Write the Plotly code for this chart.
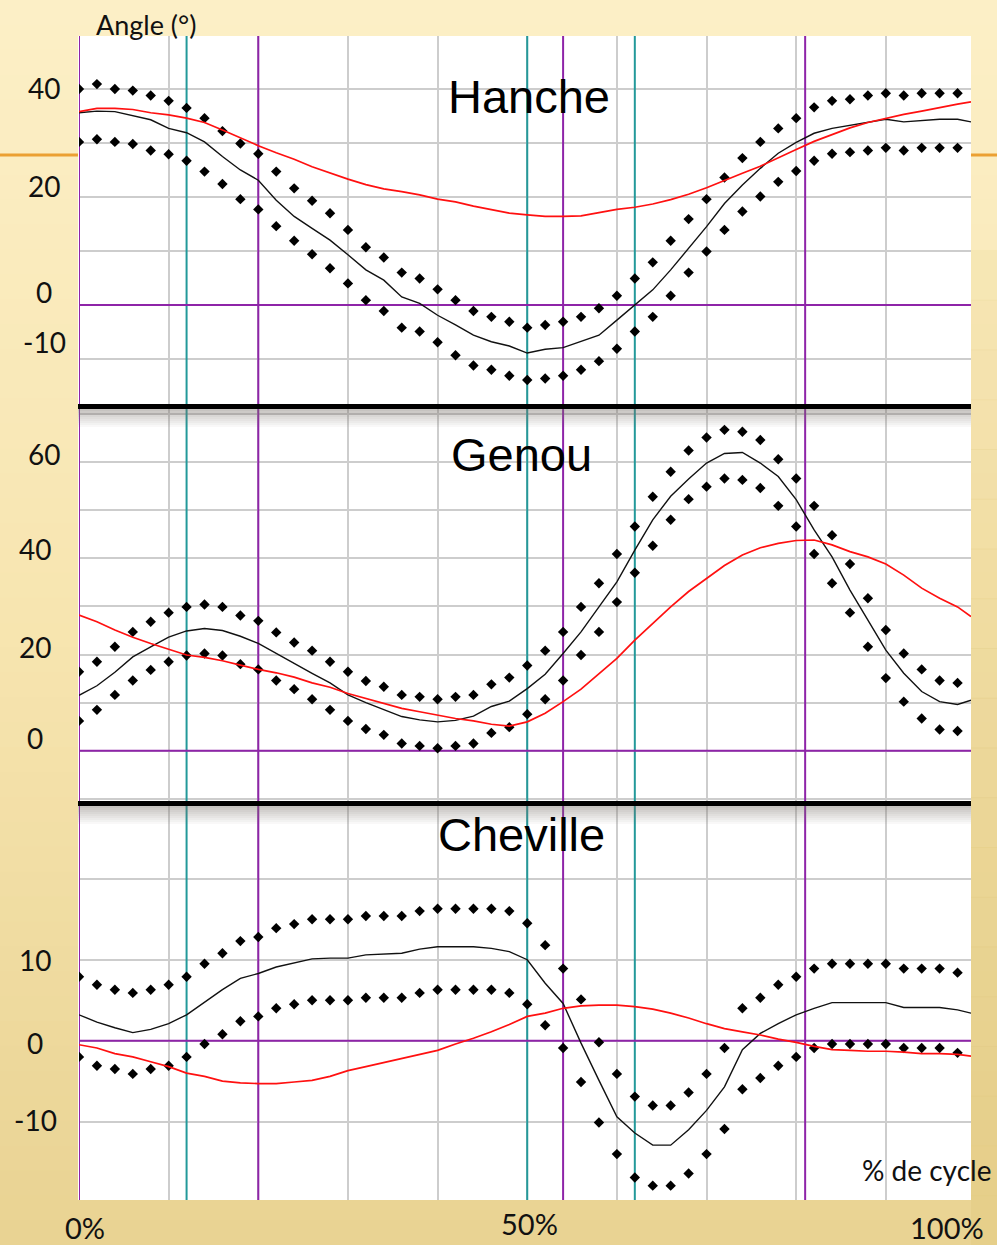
import plotly.graph_objects as go

W, H = 997, 1245

# ---------------- data (degrees vs % of gait cycle) ----------------
pct_dots = list(range(0, 100, 2))            # 0, 2, ..., 98
pct_line = list(range(0, 100, 2)) + [99.5]

hip_upper = [40.0, 40.9, 40.0, 39.7, 38.8, 37.8, 36.5, 34.6, 32.2, 29.9,
             28.0, 24.7, 21.6, 19.3, 17.0, 13.9, 10.7, 8.8, 6.0, 4.9,
             2.9, 0.9, -1.1, -2.2, -3.1, -4.2, -3.7, -3.1, -2.2, -0.6,
             1.7, 4.9, 7.9, 11.9, 15.9, 19.6, 23.6, 27.2, 30.2, 32.7,
             34.6, 36.6, 37.8, 38.1, 38.8, 39.2, 38.8, 39.2, 39.2, 39.2]
hip_lower = [30.2, 30.7, 30.2, 29.8, 28.6, 27.9, 26.7, 24.7, 22.4, 19.6,
             17.7, 14.6, 11.9, 9.4, 6.8, 4.0, 0.9, -1.1, -4.2, -4.9,
             -6.9, -9.3, -11.2, -12.0, -13.1, -13.9, -13.6, -13.1, -12.0, -10.4,
             -8.1, -4.9, -2.2, 1.7, 6.0, 9.9, 13.9, 17.3, 20.1, 22.8,
             24.8, 26.7, 28.0, 28.3, 28.6, 29.1, 28.6, 29.1, 29.1, 29.1]
hip_mean = [35.6, 35.9, 35.8, 35.0, 34.3, 32.7, 31.9, 30.2, 27.5, 25.0,
            23.1, 19.4, 16.4, 14.2, 12.0, 9.3, 6.5, 4.6, 1.5, 0.3,
            -1.9, -3.7, -5.6, -6.8, -7.6, -8.9, -8.2, -7.9, -6.8, -5.6,
            -2.8, 0.0, 2.8, 6.5, 10.5, 14.5, 18.8, 22.2, 25.3, 28.1,
            30.1, 31.8, 32.7, 33.3, 33.8, 34.4, 33.9, 34.1, 34.4, 34.4, 33.9]
hip_patient = [35.8, 36.4, 36.4, 36.2, 35.6, 35.2, 34.6, 33.8, 32.4, 30.9,
               29.5, 28.2, 27.0, 25.6, 24.4, 23.3, 22.3, 21.5, 21.0, 20.4,
               19.6, 19.1, 18.3, 17.7, 17.0, 16.7, 16.4, 16.4, 16.5, 17.1,
               17.7, 18.1, 18.7, 19.5, 20.5, 21.7, 23.1, 24.4, 25.7, 27.3,
               28.8, 30.3, 31.6, 32.8, 33.8, 34.6, 35.3, 35.9, 36.6, 37.2, 37.6]

knee_upper = [16.4, 18.5, 21.6, 24.7, 26.8, 28.7, 29.9, 30.4, 29.9, 28.1,
              27.0, 24.6, 22.5, 20.8, 18.5, 16.4, 14.5, 13.3, 11.6, 11.2,
              10.7, 11.2, 11.6, 13.8, 15.2, 17.7, 20.8, 24.7, 29.9, 34.8,
              40.9, 46.6, 52.8, 58.0, 62.4, 65.1, 66.7, 66.3, 64.6, 60.6,
              56.6, 50.9, 44.8, 38.8, 31.7, 25.1, 20.2, 16.9, 14.6, 14.1]
knee_lower = [6.2, 8.5, 11.6, 14.6, 16.8, 18.5, 19.8, 20.2, 19.8, 18.0,
              16.9, 14.6, 12.8, 10.7, 8.5, 6.2, 4.5, 3.3, 1.5, 1.0,
              0.5, 1.0, 1.5, 3.7, 4.9, 7.6, 10.7, 14.6, 19.9, 24.7,
              30.9, 37.0, 42.6, 48.0, 52.3, 54.9, 56.6, 56.3, 54.6, 50.9,
              46.6, 40.9, 34.8, 28.7, 21.6, 15.1, 10.2, 6.7, 4.4, 4.1]
knee_mean = [11.5, 13.5, 16.3, 19.5, 21.6, 23.6, 24.9, 25.4, 25.0, 23.8,
             22.3, 20.2, 18.2, 16.1, 14.1, 11.6, 10.0, 8.5, 7.1, 6.4,
             6.0, 6.3, 7.2, 9.2, 10.3, 12.9, 15.9, 20.2, 24.7, 29.9,
             35.1, 41.7, 48.0, 52.9, 56.5, 59.8, 61.8, 62.0, 59.8, 57.0,
             52.2, 45.9, 40.3, 33.4, 27.2, 20.9, 16.1, 12.3, 10.2, 9.6, 10.5]
knee_patient = [28.2, 26.8, 25.1, 23.6, 22.3, 21.1, 19.9, 19.4, 18.7, 17.8,
                16.9, 16.2, 15.3, 14.1, 13.2, 11.9, 10.9, 9.9, 8.8, 8.1,
                7.4, 6.7, 6.2, 5.5, 5.1, 6.0, 7.8, 10.2, 12.8, 16.1,
                19.2, 23.0, 26.5, 29.9, 33.1, 35.8, 38.5, 40.7, 42.2, 43.1,
                43.7, 43.8, 42.8, 41.4, 40.3, 38.8, 36.5, 33.8, 31.7, 29.9, 27.9]

ankle_upper = [7.9, 6.9, 6.3, 5.9, 6.3, 6.9, 7.9, 9.5, 10.8, 12.3,
               12.8, 13.9, 14.4, 15.0, 15.0, 15.0, 15.4, 15.4, 15.4, 16.0,
               16.3, 16.3, 16.3, 16.3, 16.0, 14.5, 11.8, 8.9, 5.1, -0.2,
               -4.1, -6.9, -8.0, -8.0, -6.4, -4.1, -0.9, 4.0, 5.3, 6.9,
               7.9, 8.9, 9.5, 9.5, 9.5, 9.5, 8.9, 8.9, 8.9, 8.4]
ankle_lower = [-2.0, -3.1, -3.5, -4.1, -3.5, -3.1, -2.0, -0.4, 0.8, 2.4,
               3.0, 4.0, 4.5, 5.0, 5.0, 5.0, 5.3, 5.3, 5.3, 5.9,
               6.3, 6.3, 6.3, 6.3, 5.9, 4.5, 1.9, -0.9, -5.1, -10.1,
               -14.0, -16.9, -17.9, -17.9, -16.4, -14.0, -10.9, -6.0, -4.6, -3.1,
               -2.0, -0.9, -0.4, -0.4, -0.4, -0.4, -0.9, -0.9, -0.9, -1.5]
ankle_mean = [3.2, 2.3, 1.6, 1.0, 1.4, 2.1, 3.2, 4.8, 6.3, 7.7,
              8.3, 9.1, 9.6, 10.1, 10.2, 10.2, 10.6, 10.7, 10.8, 11.3,
              11.6, 11.6, 11.6, 11.4, 11.0, 10.0, 7.1, 4.6, -0.3, -4.9,
              -9.4, -11.4, -12.9, -12.9, -11.0, -8.6, -5.7, -1.1, 0.9, 2.1,
              3.2, 4.0, 4.7, 4.7, 4.7, 4.7, 4.1, 4.1, 4.1, 3.8, 3.4]
ankle_patient = [-0.5, -0.9, -1.6, -2.0, -2.6, -3.2, -4.0, -4.4, -5.0, -5.2,
                 -5.3, -5.3, -5.1, -4.9, -4.4, -3.7, -3.2, -2.7, -2.2, -1.7,
                 -1.2, -0.4, 0.3, 1.1, 2.0, 3.0, 3.4, 4.0, 4.3, 4.4,
                 4.4, 4.2, 3.9, 3.4, 2.8, 2.1, 1.5, 1.1, 0.7, 0.2,
                 -0.2, -0.7, -1.1, -1.2, -1.3, -1.3, -1.4, -1.6, -1.6, -1.7, -1.9]

panel_titles = ["Hanche", "Genou", "Cheville"]
hip_ticks = [40, 20, 0, -10]
hip_tick_labels = ["40", "20", "0", "-10"]
knee_ticks = [60, 40, 20, 0]
knee_tick_labels = ["60", "40", "20", "0"]
ankle_ticks = [10, 0, -10]
ankle_tick_labels = ["10", "0", "-10"]
x_tick_labels = ["0%", "50%", "100%"]
purple_events = [0, 20, 54, 81]
teal_events = [12, 50, 62]

# ---------------- styling / layout helpers ----------------
def fx(p):
    return p / W

def fy(p):
    return 1 - p / H

PURPLE = "#8E24A8"
TEAL = "#23999A"
GRID = "#CDCDCD"
SANS = "Lato, Carlito, Calibri, sans-serif"
TICK_FONT = dict(family=SANS, size=28, color="#111111")
TITLE_FONT = dict(family="Liberation Sans, Arial, sans-serif", size=47, color="#000000")

panels = [
    dict(upper=hip_upper, lower=hip_lower, mean=hip_mean, pat=hip_patient,
         rng=[-18.52, 49.81], top=36, bot=405, ticks=hip_ticks, labels=hip_tick_labels,
         lx=[44, 44, 44, 44], shift=[1, 11, 13, 17], title_xy=(529, 96)),
    dict(upper=knee_upper, lower=knee_lower, mean=knee_mean, pat=knee_patient,
         rng=[-10.87, 71.87], top=405, bot=803, ticks=knee_ticks, labels=knee_tick_labels,
         lx=[44, 35, 35, 35], shift=[8, 9, 8, 13], title_xy=(521, 454)),
    dict(upper=ankle_upper, lower=ankle_lower, mean=ankle_mean, pat=ankle_patient,
         rng=[-19.67, 29.35], top=803, bot=1200, ticks=ankle_ticks, labels=ankle_tick_labels,
         lx=[35, 35, 35], shift=[0, -2, 2], title_xy=(521, 834)),
]
X_RANGE = [0, 99.5]

fig = go.Figure()
shapes = []
annotations = []

# background gradient (slide texture approximation)
top_c = (252, 239, 198)
mid_c = (247, 229, 176)
bot_c = (233, 211, 147)
n_str = 50
for i in range(n_str):
    t = i / (n_str - 1)
    if t < 0.5:
        u = t / 0.5
        c = [round(top_c[k] + (mid_c[k] - top_c[k]) * u) for k in range(3)]
    else:
        u = (t - 0.5) / 0.5
        c = [round(mid_c[k] + (bot_c[k] - mid_c[k]) * u) for k in range(3)]
    y0 = i * H / n_str
    y1 = (i + 1) * H / n_str + 1
    shapes.append(dict(type="rect", xref="paper", yref="paper", x0=0, x1=1,
                       y0=fy(y1), y1=fy(y0), line=dict(width=0),
                       fillcolor=f"rgb({c[0]},{c[1]},{c[2]})", layer="below"))
for i in range(20):
    t = i / 19
    a = 0.15 + 0.6 * t
    y0 = 250 + i * (H - 250) / 20
    y1 = 250 + (i + 1) * (H - 250) / 20 + 1
    shapes.append(dict(type="rect", xref="paper", yref="paper", x0=fx(971), x1=1,
                       y0=fy(y1), y1=fy(y0), line=dict(width=0),
                       fillcolor=f"rgba(228,205,135,{a:.2f})", layer="below"))
for xa_, xb_ in [(0, 78), (971, 997)]:
    shapes.append(dict(type="line", xref="paper", yref="paper", x0=fx(xa_), x1=fx(xb_),
                       y0=fy(155), y1=fy(155), line=dict(color="#EBA032", width=3),
                       layer="below"))
# white chart canvas
shapes.append(dict(type="rect", xref="paper", yref="paper", x0=fx(78), x1=fx(971),
                   y0=fy(1200), y1=fy(36), line=dict(width=0), fillcolor="white",
                   layer="below"))

for i, p in enumerate(panels):
    n = i + 1
    xa = "x" if n == 1 else f"x{n}"
    ya = "y" if n == 1 else f"y{n}"
    xkey = "xaxis" if n == 1 else f"xaxis{n}"
    ykey = "yaxis" if n == 1 else f"yaxis{n}"

    fig.layout[xkey] = dict(domain=[fx(79), fx(971)], range=X_RANGE, anchor=ya,
                            showgrid=True, gridcolor=GRID, gridwidth=2, dtick=10, tick0=0,
                            showticklabels=False, ticks="", zeroline=False, showline=False,
                            fixedrange=True)
    fig.layout[ykey] = dict(domain=[fy(p["bot"]), fy(p["top"])], range=p["rng"], anchor=xa,
                            showgrid=True, gridcolor=GRID, gridwidth=2, dtick=10, tick0=0,
                            showticklabels=False, ticks="", zeroline=False, showline=False,
                            fixedrange=True)

    # gait event lines (drawn as traces, above grid and below curves)
    for ev, col in [(e, PURPLE) for e in purple_events] + [(e, TEAL) for e in teal_events]:
        fig.add_trace(go.Scatter(x=[ev, ev], y=p["rng"], mode="lines", xaxis=xa, yaxis=ya,
                                 line=dict(color=col, width=2), cliponaxis=False,
                                 showlegend=False, hoverinfo="skip"))
    # zero line
    fig.add_trace(go.Scatter(x=X_RANGE, y=[0, 0], mode="lines", xaxis=xa, yaxis=ya,
                             line=dict(color=PURPLE, width=2),
                             showlegend=False, hoverinfo="skip"))

    # normal band (dots)
    for band in (p["upper"], p["lower"]):
        fig.add_trace(go.Scatter(x=pct_dots, y=band, mode="markers", xaxis=xa, yaxis=ya,
                                 marker=dict(symbol="diamond", size=8, color="black",
                                             line=dict(width=0)),
                                 showlegend=False, hoverinfo="skip"))
    # mean curve
    fig.add_trace(go.Scatter(x=pct_line, y=p["mean"], mode="lines", xaxis=xa, yaxis=ya,
                             line=dict(color="#111111", width=1.4),
                             showlegend=False, hoverinfo="skip"))
    # patient curve
    fig.add_trace(go.Scatter(x=pct_line, y=p["pat"], mode="lines", xaxis=xa, yaxis=ya,
                             line=dict(color="#FF1010", width=1.7),
                             showlegend=False, hoverinfo="skip"))

    for v, lab, lxp, sh in zip(p["ticks"], p["labels"], p["lx"], p["shift"]):
        annotations.append(dict(text=lab, xref="paper", yref=ya, x=fx(lxp), y=v,
                                xanchor="center", yanchor="middle", yshift=sh,
                                showarrow=False, font=TICK_FONT))
    tx, ty = p["title_xy"]
    annotations.append(dict(text=panel_titles[i], xref="paper", yref="paper",
                            x=fx(tx), y=fy(ty), xanchor="center", yanchor="middle",
                            showarrow=False, font=TITLE_FONT))

# thick black separators with soft shadow
for ysep in (406.5, 803.5):
    for k in range(9):
        a = 0.42 * (1 - k / 9)
        shapes.append(dict(type="rect", xref="paper", yref="paper", x0=fx(78), x1=fx(971),
                           y0=fy(ysep + 2.5 + 2 * (k + 1)), y1=fy(ysep + 2.5 + 2 * k),
                           line=dict(width=0), fillcolor=f"rgba(120,112,105,{a:.3f})",
                           layer="above"))
    shapes.append(dict(type="line", xref="paper", yref="paper", x0=fx(78), x1=fx(971),
                       y0=fy(ysep), y1=fy(ysep), line=dict(color="black", width=5),
                       layer="above"))

annotations.append(dict(text="Angle (°)", xref="paper", yref="paper", x=fx(146), y=fy(24),
                        xanchor="center", yanchor="middle", showarrow=False,
                        font=dict(family=SANS, size=27, color="#111111")))
annotations.append(dict(text="% de cycle", xref="paper", yref="paper", x=fx(926), y=fy(1170),
                        xanchor="center", yanchor="middle", showarrow=False,
                        font=dict(family=SANS, size=28, color="#111111")))
# x labels: (centre x px, y px, anchor)
x_label_pos = [(85, 1246, "bottom"), (529, 1223, "middle"), (947, 1246, "bottom")]
for lab, (px, py, anc) in zip(x_tick_labels, x_label_pos):
    annotations.append(dict(text=lab, xref="paper", yref="paper", x=fx(px), y=fy(py),
                            xanchor="center", yanchor=anc, showarrow=False, borderpad=0,
                            font=dict(family=SANS, size=29, color="#111111")))

fig.update_layout(width=W, height=H, margin=dict(l=0, r=0, t=0, b=0),
                  paper_bgcolor="#F6E6B2", plot_bgcolor="white",
                  shapes=shapes, annotations=annotations, showlegend=False)

fig.write_html("out.html", config={"displayModeBar": False},
               post_script="document.body.style.margin='0px';document.body.style.overflow='hidden';")
